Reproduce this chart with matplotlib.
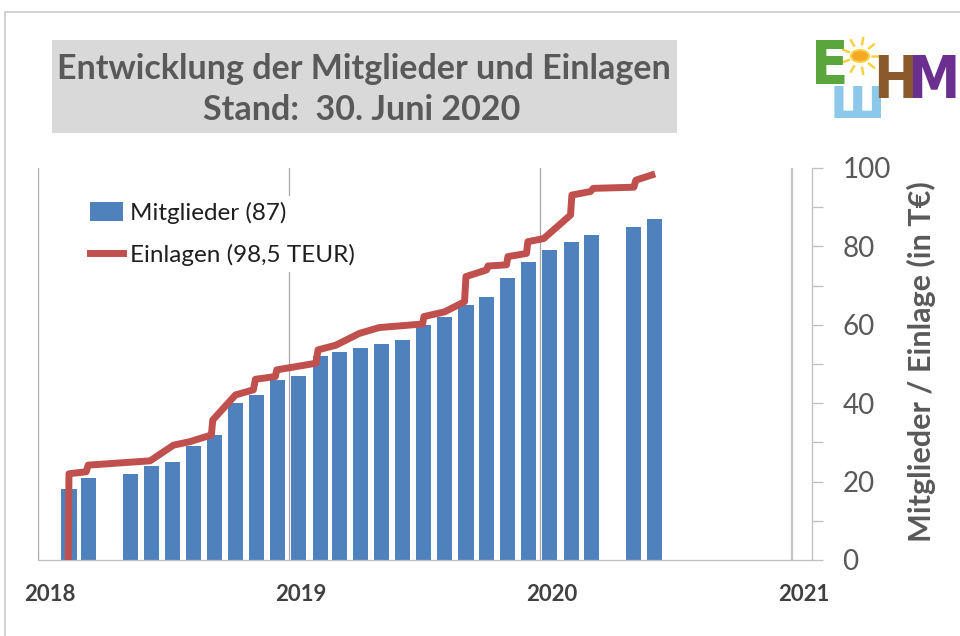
import matplotlib
matplotlib.use('Agg')
import matplotlib.pyplot as plt
from matplotlib.patches import Rectangle, Circle
from matplotlib.lines import Line2D
from matplotlib.transforms import ScaledTranslation
from matplotlib.ticker import MultipleLocator
import numpy as np

plt.rcParams['font.family'] = ['Lato', 'DejaVu Sans']

# ---------------- data ----------------
bar_months = ['2018-02', '2018-03', '2018-05', '2018-06', '2018-07', '2018-08',
              '2018-09', '2018-10', '2018-11', '2018-12', '2019-01', '2019-02',
              '2019-03', '2019-04', '2019-05', '2019-06', '2019-07', '2019-08',
              '2019-09', '2019-10', '2019-11', '2019-12', '2020-01', '2020-02',
              '2020-03', '2020-05', '2020-06']
members = [18, 21, 22, 24, 25, 29, 32, 40, 42, 46, 47, 52, 53, 54, 55, 56,
           60, 62, 65, 67, 72, 76, 79, 81, 83, 85, 87]

line_dates = ['2018-02-14', '2018-02-15', '2018-03-12', '2018-03-15', '2018-06-13',
              '2018-07-17', '2018-08-10', '2018-09-10', '2018-09-12', '2018-10-15',
              '2018-11-10', '2018-11-13', '2018-12-12', '2018-12-14', '2019-02-09',
              '2019-02-12', '2019-03-10', '2019-04-13', '2019-05-12', '2019-07-14',
              '2019-07-16', '2019-08-15', '2019-09-13', '2019-09-15', '2019-10-15',
              '2019-10-17', '2019-11-13', '2019-11-15', '2019-12-12', '2019-12-14',
              '2020-01-06', '2020-02-14', '2020-02-16', '2020-03-14', '2020-03-18',
              '2020-05-16', '2020-05-19', '2020-06-16']
deposits = [0, 22.0, 22.5, 24.2, 25.3, 29.3, 30.2, 31.9, 35.7, 42.1, 43.4, 46.1,
            46.8, 48.5, 50.2, 53.6, 54.8, 57.8, 59.3, 60.2, 62.1, 63.3, 65.9,
            72.3, 74.0, 75.0, 75.3, 77.4, 78.2, 81.2, 82.0, 88.0, 93.1, 94.0,
            94.8, 95.1, 96.9, 98.5]

year_labels = ['2018', '2019', '2020', '2021']
y_ticks = [0, 20, 40, 60, 80, 100]

title_line1 = 'Entwicklung der Mitglieder und Einlagen'
title_line2 = 'Stand:  30. Juni 2020'
legend_labels = ['Mitglieder (87)', 'Einlagen (98,5 TEUR)']
y_label = 'Mitglieder / Einlage (in T€)'

# ---------------- figure ----------------
W, H = 960, 636
fig = plt.figure(figsize=(W / 100, H / 100), dpi=100)
fig.patch.set_facecolor('white')

def fx(px):
    return px / W

def fy(py):
    return 1 - py / H

# outer light frame
fig.add_artist(Rectangle((fx(5), fy(650)), fx(970) - fx(5), fy(12) - fy(650),
                         transform=fig.transFigure, fill=False,
                         edgecolor='#cfcfcf', lw=1.3))

# title box
fig.add_artist(Rectangle((fx(52), fy(133)), fx(677) - fx(52), fy(40) - fy(133),
                         transform=fig.transFigure, facecolor='#d9d9d9',
                         edgecolor='none'))
fig.text(fx(364), fy(69), title_line1, ha='center', va='center',
         fontsize=24.5, color='#595959', fontweight='bold')
fig.text(fx(362), fy(110), title_line2, ha='center', va='center',
         fontsize=24.5, color='#595959', fontweight='bold')

# ---------------- axes ----------------
ax = fig.add_axes([fx(38), fy(560), fx(812) - fx(38), fy(168) - fy(560)])
bar_dates = [np.datetime64(m + '-15') for m in bar_months]
ldates = [np.datetime64(d) for d in line_dates]

ax.bar(bar_dates, members, width=22, color='#4f81bd', zorder=2)
ax.plot(ldates, deposits, color='#c0504d', lw=5, solid_joinstyle='round',
        solid_capstyle='butt', zorder=3)

year_dates = [np.datetime64(y + '-01-01') for y in year_labels]
ax.set_xlim(np.datetime64('2018-01-01'), np.datetime64('2021-01-30'))
ax.set_ylim(0, 100)

for d in year_dates:
    ax.axvline(d, color='#a6a6a6' if d != year_dates[-1] else '#c4c4c4',
               lw=0.9 if d != year_dates[-1] else 1.6, zorder=1)

ax.set_xticks(year_dates)
ax.set_xticklabels(year_labels)
ax.tick_params(axis='x', length=0, pad=17, labelsize=16, labelcolor='#404040')
for lab in ax.get_xticklabels():
    lab.set_fontweight('bold')
    lab.set_transform(lab.get_transform() + ScaledTranslation(12 / 100, 0, fig.dpi_scale_trans))

ax.yaxis.tick_right()
ax.yaxis.set_label_position('right')
ax.set_yticks(y_ticks)
ax.yaxis.set_minor_locator(MultipleLocator(10))
ax.tick_params(axis='y', which='major', direction='out', length=8, width=0.9,
               color='#bfbfbf', pad=14, labelsize=20, labelcolor='#595959')
ax.tick_params(axis='y', which='minor', direction='out', length=8, width=0.9,
               color='#bfbfbf')
ax.set_ylabel(y_label, fontsize=22, fontweight='bold', color='#595959',
              rotation=90, labelpad=9)
ax.yaxis.set_label_coords(1.0 + (fx(907) - fx(812)) / (fx(812) - fx(38)),
                          (fy(362) - fy(560)) / (fy(168) - fy(560)))

for s in ['top', 'left']:
    ax.spines[s].set_visible(False)
ax.spines['right'].set_color('#bfbfbf')
ax.spines['bottom'].set_color('#bfbfbf')
ax.spines['right'].set_linewidth(0.9)
ax.spines['bottom'].set_linewidth(0.9)

handles = [Rectangle((0, 0), 1, 1, facecolor='#4f81bd', edgecolor='none'),
           Line2D([0], [0], color='#c0504d', lw=5)]
ax_w = fx(812) - fx(38)
ax_h = fy(168) - fy(560)
leg = ax.legend(handles, legend_labels, loc='upper left',
                bbox_to_anchor=((fx(84) - fx(38)) / ax_w, (fy(196) - fy(560)) / ax_h),
                frameon=True, fontsize=17.5, handlelength=1.35, handleheight=0.8,
                handletextpad=0.3, labelspacing=0.8, borderpad=0.25,
                borderaxespad=0)
leg.get_frame().set_facecolor('white')
leg.get_frame().set_edgecolor('none')
leg.get_frame().set_alpha(1)
for t in leg.get_texts():
    t.set_color('#1f1f1f')

# ---------------- logo ----------------
fig.add_artist(Circle((fx(860), fy(56)), 0.0095, transform=fig.transFigure,
                      facecolor='#f7a823', edgecolor='#f9d24a', lw=1.5, zorder=5))
for ang in np.arange(0, 360, 40):
    a = np.deg2rad(ang)
    x0, y0 = 860 + 12 * np.cos(a), 56 + 12 * np.sin(a)
    x1, y1 = 860 + 18 * np.cos(a), 56 + 18 * np.sin(a)
    fig.add_artist(Line2D([fx(x0), fx(x1)], [fy(y0), fy(y1)],
                          transform=fig.transFigure, color='#f5d142', lw=1.8))
logo_kw = dict(fontweight='bold', va='center', ha='center',
               family=['DejaVu Sans'], fontstretch='condensed')
fig.text(fx(830), fy(68), 'E', fontsize=44, color='#5ba63c', **logo_kw)
fig.text(fx(858), fy(101), 'ш', fontsize=42, color='#8cc8ea', **logo_kw)
fig.text(fx(895), fy(82), 'H', fontsize=42, color='#8b5a2b', **logo_kw)
fig.text(fx(933), fy(82), 'M', fontsize=42, color='#6a2f8f', **logo_kw)

fig.savefig('out.png', dpi=100)
